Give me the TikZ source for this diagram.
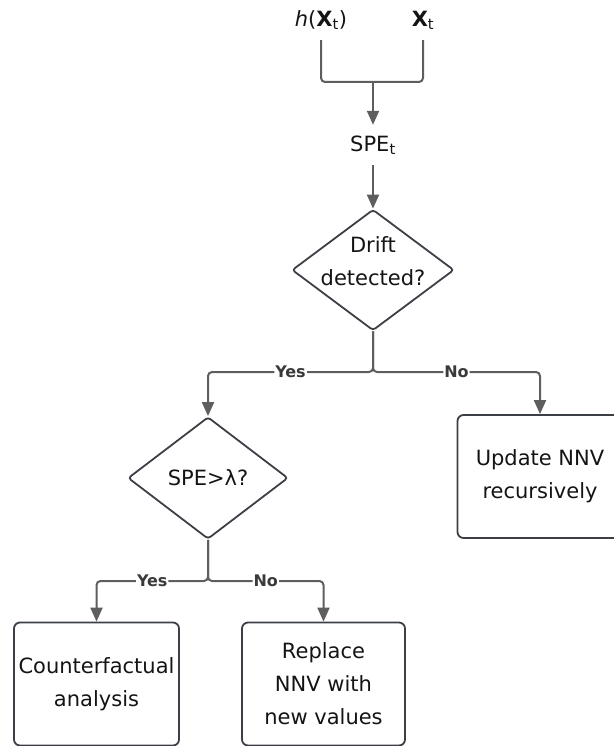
\documentclass[tikz,border=0pt]{standalone}
\usepackage{fontspec}
\setmainfont{DejaVu Sans}
\usetikzlibrary{arrows.meta,shapes.geometric}
\definecolor{wire}{HTML}{5E5E5E}
\definecolor{edge}{HTML}{3C3F46}
\definecolor{ink}{HTML}{141414}
\definecolor{taginc}{HTML}{3A3A3A}

\begin{document}
\begin{tikzpicture}[x=1pt,y=-1pt,
  txt/.style={font=\fontsize{21}{33}\selectfont, text=ink, align=center, inner sep=0pt},
  flow/.style={draw=wire, line width=2pt, rounded corners=4pt},
  arr/.style={flow, -{Triangle[length=14pt,width=12pt]}},
  tag/.style={font=\bfseries\fontsize{16}{18}\selectfont, text=taginc, fill=white, inner sep=1pt},
  decision/.style={diamond, draw=edge, line width=1.8pt, rounded corners=3pt,
                   minimum width=162pt, minimum height=121pt, inner sep=0pt},
  stepbox/.style={rectangle, draw=edge, line width=1.8pt, rounded corners=6pt,
                  minimum width=165pt, minimum height=123pt, txt}]

  \useasboundingbox (0,0) rectangle (613,746);

  % inputs
  \node[txt, minimum height=40pt] (hx) at (321,20) {\itshape h\upshape(\textbf{X}\textsubscript{t})};
  \node[txt, minimum height=40pt] (xt) at (423,20) {\textbf{X}\textsubscript{t}};
  \coordinate (join) at (373,82);
  \draw[flow] (hx.south) |- (join) -| (xt.south);

  % prediction error
  \node[txt, minimum height=40pt] (spe) at (373,145) {\raisebox{-7pt}{SPE\textsubscript{t}}};
  \draw[arr] (join) -- (spe.north);

  % first test
  \node[decision] (d1) at (373,270) {};
  \node[txt] at (373,261) {Drift\\detected?};
  \draw[arr] (spe.south) -- (d1.north);

  \node[decision, minimum width=160pt, minimum height=122pt] (d2) at (208,478) {};
  \node[txt] at (208,478) {SPE>λ?};
  \node[stepbox] (upd) at (540,476.5) {Update NNV\\recursively};

  \coordinate (split1) at (373,372);
  \draw[arr] (d1.south) -- (split1) -| node[tag, pos=0.25] {Yes} (d2.north);
  \draw[arr] (d1.south) -- (split1) -| node[tag, pos=0.25] {No} (upd.north);

  % second test
  \node[stepbox] (cf) at (96.5,684) {Counterfactual\\analysis};
  \node[stepbox, minimum width=163pt] (rep) at (323.5,684) {Replace\\NNV with\\new values};

  \coordinate (split2) at (208,581);
  \draw[arr] (d2.south) -- (split2) -| node[tag, pos=0.25] {Yes} (cf.north);
  \draw[arr] (d2.south) -- (split2) -| node[tag, pos=0.25] {No} (rep.north);
\end{tikzpicture}
\end{document}
